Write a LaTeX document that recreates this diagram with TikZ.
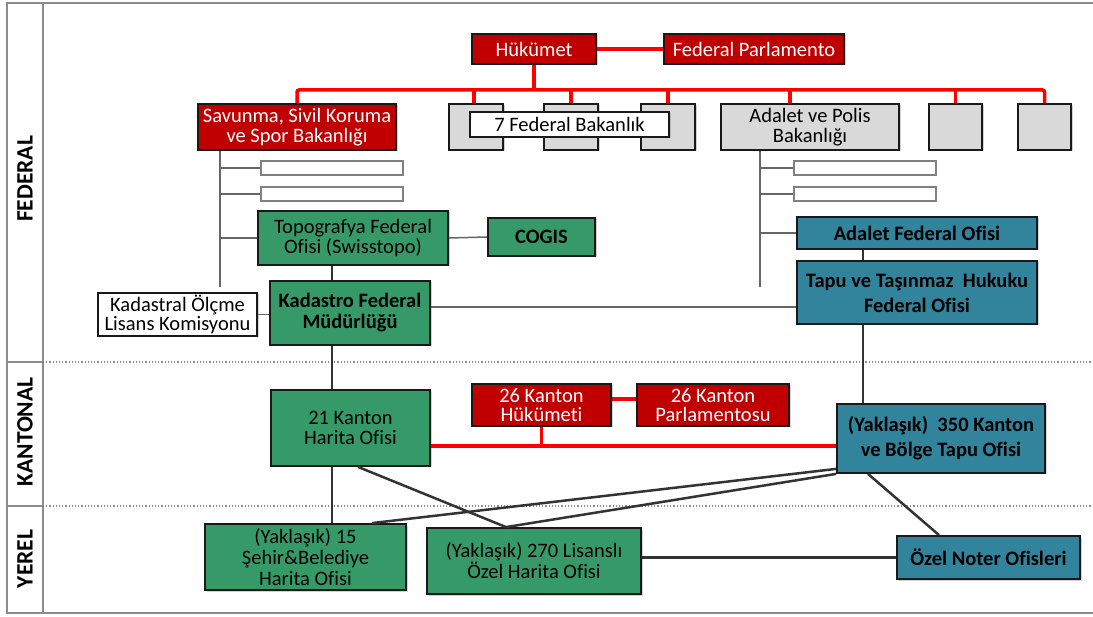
\documentclass[tikz,border=0pt]{standalone}
\usepackage{fontspec}
\setmainfont{Carlito}[Ligatures=NoCommon]
\usetikzlibrary{shadows}
\definecolor{cred}{RGB}{192,0,0}
\definecolor{cgreen}{RGB}{54,153,104}
\definecolor{cblue}{RGB}{49,132,155}
\definecolor{cgray}{RGB}{217,217,217}
\definecolor{lred}{RGB}{255,0,0}
\definecolor{frame}{RGB}{140,140,140}
\begin{document}
\begin{tikzpicture}[x=1pt,y=-1pt,
  base/.style={draw=black!90, line width=1.8pt, inner sep=0pt, align=center,
    font=\fontsize{20.5}{19.5}\selectfont,
    drop shadow={shadow xshift=1.5pt,shadow yshift=-1.5pt,opacity=0.35}},
  redbox/.style={base, fill=cred, text=white},
  graybox/.style={base, fill=cgray},
  whitebox/.style={base, fill=white},
  greenbox/.style={base, fill=cgreen},
  bluebox/.style={base, fill=cblue, font=\bfseries\fontsize{20.5}{25}\selectfont},
  slot/.style={draw=black!50, line width=1.5pt, fill=white, inner sep=0pt,
    minimum width=142pt, minimum height=14pt},
  redline/.style={draw=lred, line width=3.5pt, rounded corners=2pt},
  thin/.style={draw=black!60, line width=1.5pt},
  thick/.style={draw=black!80, line width=2.5pt},
  lvl/.style={rotate=90, font=\bfseries\fontsize{23.5}{23.5}\selectfont},
  sep/.style={draw=frame, line width=1.2pt, dotted}
]
\useasboundingbox (0,0) rectangle (1093,617);
\fill[white] (0,0) rectangle (1093,617);

% frame
\draw[frame, line width=2pt] (1093,3) -- (7,3) -- (7,613) -- (1093,613);
\draw[frame, line width=2pt] (43,3) -- (43,613);
\draw[frame, line width=2pt] (7,362) -- (43,362);
\draw[frame, line width=2pt] (7,506) -- (43,506);
\draw[sep] (43,362) -- (1093,362);
\draw[sep] (43,506) -- (1093,506);
\node[lvl] (lf) at (25,179) {FEDERAL};
\node[lvl] (lk) at (25,432) {KANTONAL};
\node[lvl] (ly) at (25,559) {YEREL};

% named helper coordinates
\coordinate (bus) at (0,90);
\coordinate (sv) at (220,287);
\coordinate (av) at (760,287);
\coordinate (vx) at (332,0);
\coordinate (tx) at (863,0);
\coordinate (ry) at (0,446);

% federal top
\node[redbox, minimum width=124pt, minimum height=30pt] (huk) at (534,49) {Hükümet};
\node[redbox, minimum width=180pt, minimum height=30pt] (fpar) at (754,49) {Federal Parlamento};
\node[redbox, minimum width=198pt, minimum height=46pt] (sav) at (297,127) {Savunma, Sivil Koruma\\ve Spor Bakanlığı};
\node[graybox, minimum width=54pt, minimum height=46pt] (g1) at (476,127) {};
\node[graybox, minimum width=54pt, minimum height=46pt] (g2) at (571,127) {};
\node[graybox, minimum width=54pt, minimum height=46pt] (g3) at (668,127) {};
\node[whitebox, minimum width=199pt, minimum height=25pt] (fb7) at (569.5,124.5) {7 Federal Bakanlık};
\node[graybox, minimum width=178pt, minimum height=46pt] (adp) at (810,127) {Adalet ve Polis\\Bakanlığı};
\node[graybox, minimum width=53pt, minimum height=46pt] (g4) at (955.5,127) {};
\node[graybox, minimum width=53pt, minimum height=46pt] (g5) at (1044.5,127) {};

% red lines federal
\draw[redline] (huk.east) -- (fpar.west);
\draw[redline] (huk.south) -- (huk.south |- bus);
\draw[redline] (sav.north) |- (g5.north |- bus) -- (g5.north);
\draw[redline] ([xshift=-2pt]g1.north) -- ([xshift=-2pt]g1.north |- bus);
\draw[redline] (g2.north) -- (g2.north |- bus);
\draw[redline] (g3.north) -- (g3.north |- bus);
\draw[redline] ([xshift=-20pt]adp.north) -- ([xshift=-20pt]adp.north |- bus);
\draw[redline] (g4.north) -- (g4.north |- bus);

% slots
\node[slot] (s1) at (332,168) {};
\node[slot] (s2) at (332,194) {};
\node[slot] (a1) at (865,168) {};
\node[slot] (a2) at (865,194) {};

% federal offices
\node[greenbox, minimum width=190pt, minimum height=54pt] (topo) at (353,238) {Topografya Federal\\Ofisi (Swisstopo)};
\node[greenbox, minimum width=107pt, minimum height=38pt, font=\bfseries\fontsize{20.5}{19.5}\selectfont] (cogis) at (541.5,237) {COGIS};
\node[greenbox, minimum width=160pt, minimum height=64pt, font=\bfseries\fontsize{20.5}{21}\selectfont] (kad) at (350,313) {Kadastro Federal\\Müdürlüğü};
\node[whitebox, minimum width=159pt, minimum height=43pt] (kom) at (177.5,314.5) {Kadastral Ölçme\\Lisans Komisyonu};
\node[bluebox, minimum width=240pt, minimum height=32pt] (adf) at (917,233) {Adalet Federal Ofisi};
\node[bluebox, minimum width=240pt, minimum height=63pt] (tapu) at (917,292.5) {Tapu ve Taşınmaz\ \ Hukuku\\Federal Ofisi};

% federal thin connectors
\draw[thin] (sav.south -| sv) -- (sv);
\draw[thin] (s1.west -| sv) -- (s1.west);
\draw[thin] (s2.west -| sv) -- (s2.west);
\draw[thin] (topo.west -| sv) -- (topo.west);
\draw[thin] (adp.south -| av) -- (av);
\draw[thin] (a1.west -| av) -- (a1.west);
\draw[thin] (a2.west -| av) -- (a2.west);
\draw[thin] (adf.west -| av) -- (adf.west);
\draw[thin] (topo.east) -- (cogis.west);
\draw[thick] (topo.south -| vx) -- (kad.north -| vx);
\draw[thin] (kom.east) -- (kad.west |- kom.east);
\draw[thin] ([yshift=6pt]kad.east) -- ([yshift=6pt]kad.east -| tapu.west);
\draw[thick] (adf.south -| tx) -- (tapu.north -| tx);

% kantonal
\node[greenbox, minimum width=159pt, minimum height=76pt] (k21) at (350.5,428) {21 Kanton\\Harita Ofisi};
\node[redbox, minimum width=139pt, minimum height=42pt] (khuk) at (541.5,405) {26 Kanton\\Hükümeti};
\node[redbox, minimum width=152pt, minimum height=42pt] (kpar) at (713,405) {26 Kanton\\Parlamentosu};
\node[bluebox, minimum width=208pt, minimum height=69pt] (k350) at (941,438.5) {(Yaklaşık)\ \ 350 Kanton\\ve Bölge Tapu Ofisi};

\draw[redline] ([yshift=6pt]khuk.east) -- ([yshift=6pt]kpar.west);
\draw[redline] (k21.east |- ry) -- (k350.west |- ry);
\draw[redline] (khuk.south) -- (khuk.south |- ry);
\draw[thick] (kad.south -| vx) -- (k21.north -| vx);
\draw[thick] (tapu.south -| tx) -- (k350.north -| tx);

% yerel
\node[greenbox, minimum width=201pt, minimum height=66pt, font=\fontsize{20.5}{21}\selectfont] (s15) at (305.5,557) {(Yaklaşık) 15\\Şehir\&Belediye\\Harita Ofisi};
\node[greenbox, minimum width=214pt, minimum height=66pt] (l270) at (534,561) {(Yaklaşık) 270 Lisanslı\\Özel Harita Ofisi};
\node[bluebox, minimum width=183pt, minimum height=43pt] (noter) at (988.5,557.5) {Özel Noter Ofisleri};

\draw[thick] (k21.south -| vx) -- (s15.north -| vx);
\draw[thick] ([xshift=7.5pt]k21.south) -- ([xshift=-28pt]l270.north);
\draw[thick] ([yshift=5pt]k350.south west) -- ([xshift=66.5pt]s15.north);
\draw[thick] (k350.south west) -- ([xshift=-28pt]l270.north);
\draw[thick] ([xshift=-73pt]k350.south) -- ([xshift=-49.5pt]noter.north);
\draw[thick] (noter.west) -- (noter.west -| l270.east);
\end{tikzpicture}
\end{document}
